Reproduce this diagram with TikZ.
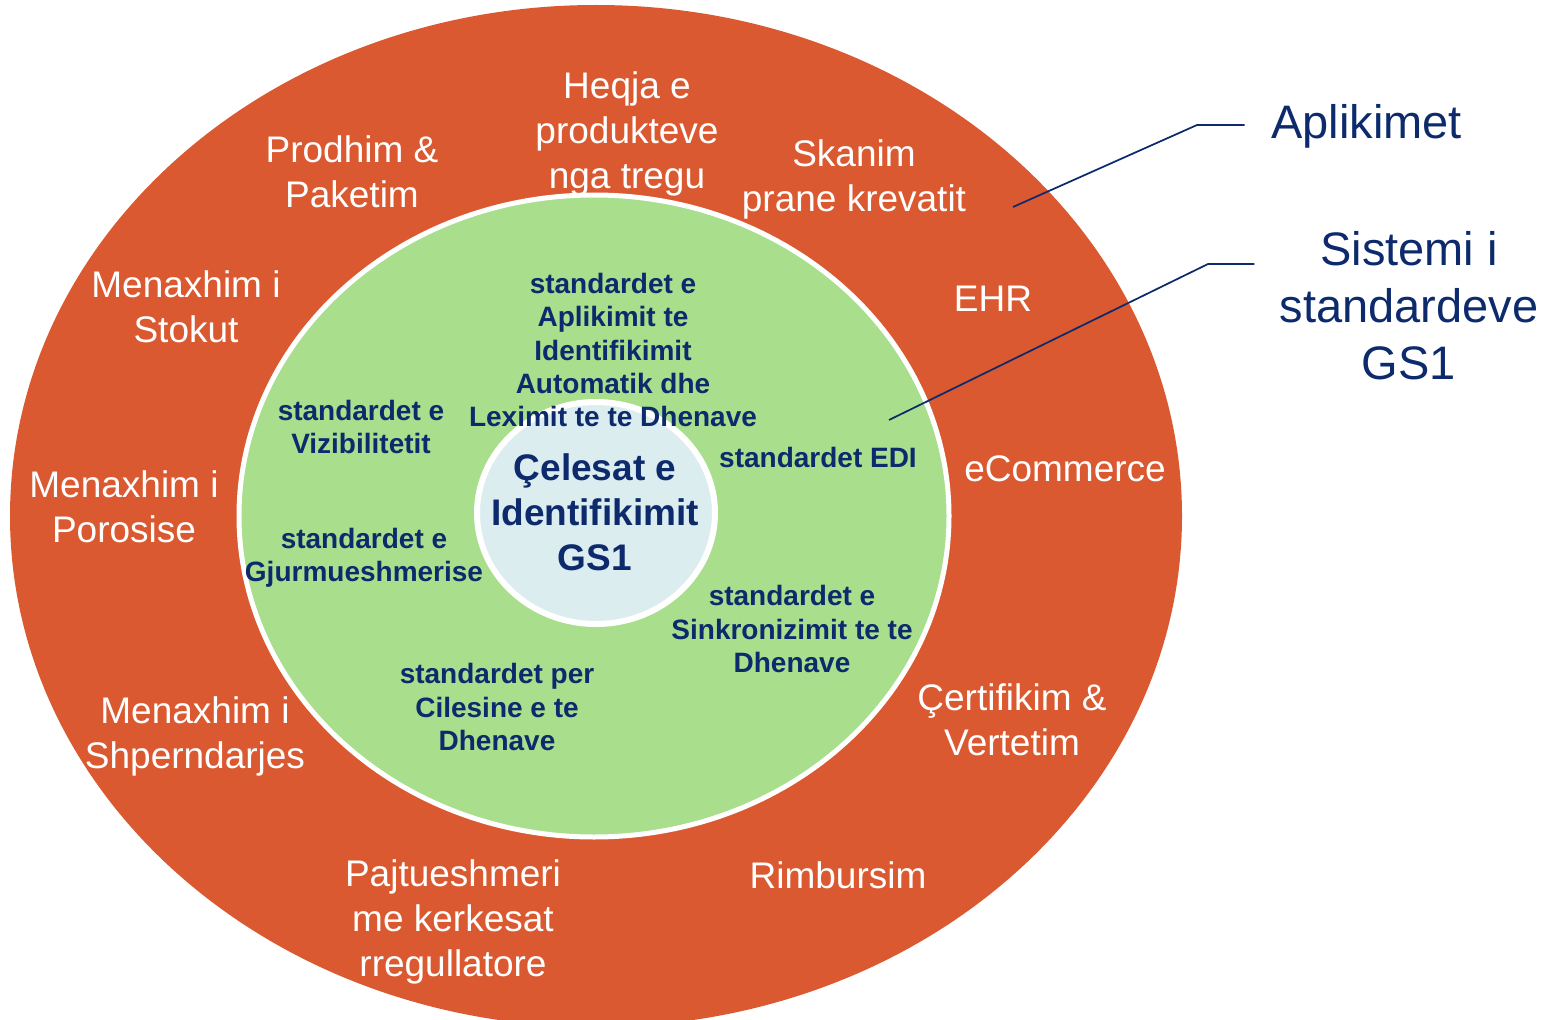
\documentclass[tikz,border=0pt]{standalone}
\usepackage{fontspec}
\setmainfont{Liberation Sans}
\usepackage{tikz}

\definecolor{ringorange}{RGB}{218,89,48}
\definecolor{ringgreen}{RGB}{168,222,140}
\definecolor{keyblue}{RGB}{220,237,240}
\definecolor{stdnavy}{RGB}{12,42,108}

\tikzset{
  applabel/.style={text=white, align=center, inner sep=0.75pt, font=\fontsize{27.75}{33.75}\selectfont},
  stdlabel/.style={text=stdnavy, align=center, inner sep=0.75pt, font=\bfseries\fontsize{21}{25}\selectfont},
  keylabel/.style={text=stdnavy, align=center, inner sep=0.75pt, font=\bfseries\fontsize{27.75}{33.75}\selectfont},
  sidelabel/.style={text=stdnavy, align=center, inner sep=0.75pt, font=\fontsize{35.25}{42.75}\selectfont},
  leader/.style={draw=stdnavy, line width=1.3pt}
}

\begin{document}
\begin{tikzpicture}[x=0.75pt,y=0.75pt,yscale=-1,xscale=1]
\useasboundingbox (0,0) rectangle (1553,1020);

%Shape: Ellipse [id:applications]
\fill [ringorange] (596,516) ellipse [x radius=586, y radius=511];

% Text Node
\node [applabel] (prodhim) at (352,172) {Prodhim \&\\Paketim};
% Text Node
\node [applabel] (heqja) at (627,134) {Heqja e\\produkteve\\nga tregu};
% Text Node
\node [applabel] (skanim) at (854,179) {Skanim\\prane krevatit};
% Text Node
\node [applabel] (stokut) at (186,307) {Menaxhim i\\Stokut};
% Text Node
\node [applabel] (ehr) at (993,299) {EHR};
% Text Node
\node [applabel] (porosise) at (124,507) {Menaxhim i\\Porosise};
% Text Node
\node [applabel] (ecommerce) at (1065,469) {eCommerce};
% Text Node
\node [applabel] (shperndarjes) at (195,736) {Menaxhim i\\Shperndarjes};
% Text Node
\node [applabel] (certifikim) at (1012,720) {Çertifikim \&\\Vertetim};
% Text Node
\node [applabel] (pajtueshmeri) at (453,922) {Pajtueshmeri\\me kerkesat\\rregullatore};
% Text Node
\node [applabel] (rimbursim) at (838,875) {Rimbursim};

%Shape: Ellipse [id:standards]
\filldraw [fill=ringgreen, draw=white, line width=3.75pt] (594,516) ellipse [x radius=355, y radius=321];

%Shape: Ellipse [id:keys]
\filldraw [fill=keyblue, draw=white, line width=4.5pt] (596,513) ellipse [x radius=119, y radius=111];

% Text Node
\node [stdlabel] (aidc) at (613,350) {standardet e\\Aplikimit te\\Identifikimit\\Automatik dhe\\Leximit te te Dhenave};
% Text Node
\node [stdlabel] (vizibilitet) at (361,427) {standardet e\\Vizibilitetit};
% Text Node
\node [stdlabel] (edi) at (818,457) {standardet EDI};
% Text Node
\node [stdlabel] (gjurmim) at (364,558) {standardet e\\Gjurmueshmerise};
% Text Node
\node [stdlabel] (sinkronizim) at (792,629) {standardet e\\Sinkronizimit te te\\Dhenave};
% Text Node
\node [stdlabel] (cilesi) at (497,707) {standardet per\\Cilesine e te\\Dhenave};
% Text Node
\node [keylabel] (celesat) at (595,512) {Çelesat e\\Identifikimit\\GS1};

% Text Node
\node [sidelabel, anchor=west] (aplikimet) at (1270,126) {Aplikimet};
% Text Node
\node [sidelabel] (sistemi) at (1409,306) {Sistemi i\\standardeve\\GS1};

\coordinate (aplTip) at (1013,207);
\coordinate (aplKnee) at (1197,125);
\coordinate (sisTip) at (889,420);
\coordinate (sisKnee) at (1208,264);

%Straight Lines [id:leaders]
\draw [leader, shorten >=19pt] (aplTip) -- (aplKnee) -- (aplKnee -| aplikimet.west);
\draw [leader, shorten >=18pt] (sisTip) -- (sisKnee) -- (sisKnee -| sistemi.west);
\end{tikzpicture}
\end{document}
